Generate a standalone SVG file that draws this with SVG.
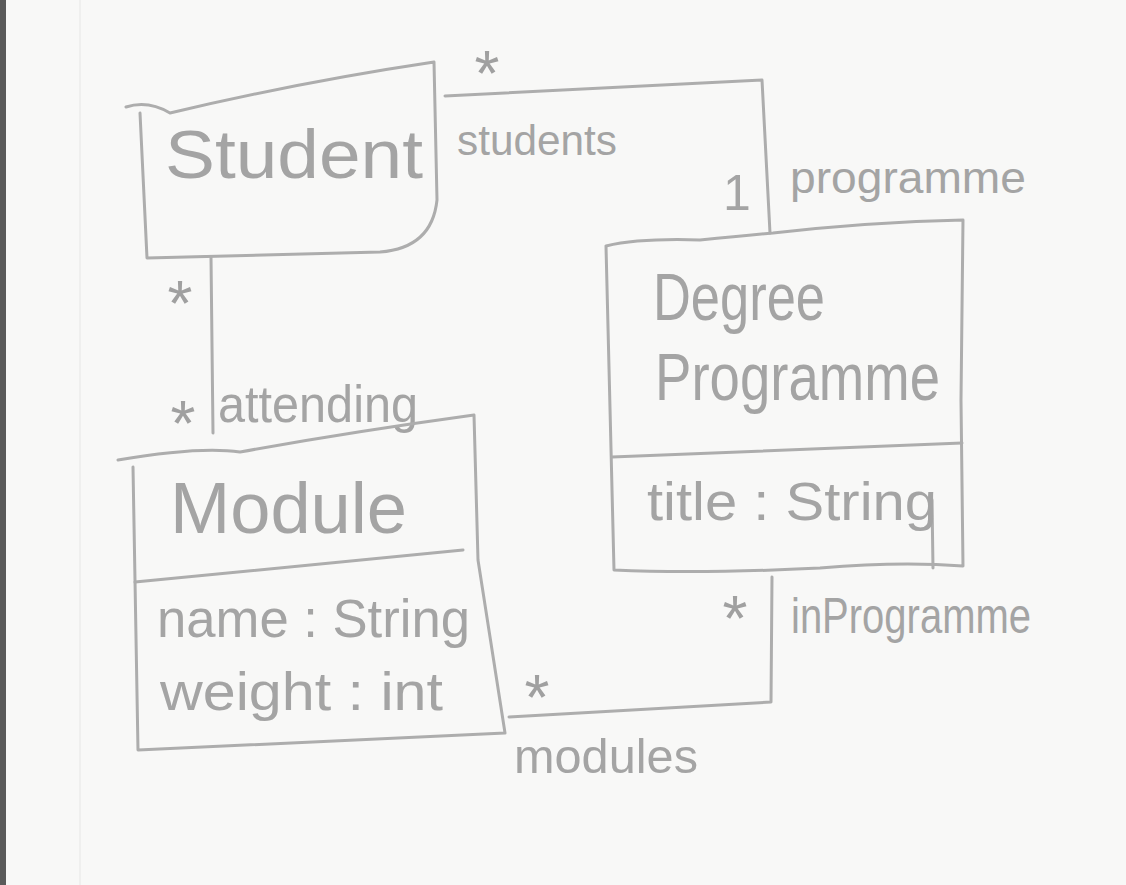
<svg xmlns="http://www.w3.org/2000/svg" width="1126" height="885" viewBox="0 0 1126 885">
  <style>
    .pen { fill: none; stroke: #adadad; stroke-width: 3; stroke-linecap: round; stroke-linejoin: round; }
    .hand { font-family: "Liberation Sans", "DejaVu Sans", sans-serif; fill: #a4a4a4; }
    .star { font-family: "Liberation Sans", "DejaVu Sans", sans-serif; fill: #a0a0a0; font-size: 64px; text-anchor: middle; }
  </style>

  <!-- paper -->
  <rect x="0" y="0" width="1126" height="885" fill="#f8f8f7"/>
  <rect x="0" y="0" width="6" height="885" fill="#5a5a5a"/>
  <line x1="80" y1="0" x2="80" y2="885" stroke="#ececeb" stroke-width="1.5"/>

  <!-- associations -->
  <g id="connectors">
    <path class="pen" d="M445,96 Q600,88 762,80 L770,233"/>
    <path class="pen" d="M211,257 L213,433"/>
    <path class="pen" d="M772,577 L771,702 L509,717"/>

    <text class="star" x="487" y="96">*</text>
    <text class="hand" x="457" y="155" font-size="42" textLength="160" lengthAdjust="spacingAndGlyphs">students</text>
    <text class="hand" x="737" y="210" font-size="50" text-anchor="middle">1</text>
    <text class="hand" x="790" y="193" font-size="44" textLength="236" lengthAdjust="spacingAndGlyphs">programme</text>

    <text class="star" x="180" y="326">*</text>
    <text class="star" x="183" y="446">*</text>
    <text class="hand" x="218" y="422" font-size="52" textLength="200" lengthAdjust="spacingAndGlyphs">attending</text>

    <text class="star" x="735" y="641">*</text>
    <text class="star" x="537" y="720">*</text>
    <text class="hand" x="791" y="633" font-size="50" textLength="240" lengthAdjust="spacingAndGlyphs">inProgramme</text>
    <text class="hand" x="514" y="773" font-size="48" textLength="184" lengthAdjust="spacingAndGlyphs">modules</text>
  </g>

  <!-- Student class -->
  <g id="student">
    <path class="pen" d="M126,107 Q148,100 170,113 Q300,82 434,62 L437,200 Q432,248 380,252 L147,258 L140,113"/>
    <text class="hand" x="165" y="178" font-size="68" textLength="258" lengthAdjust="spacingAndGlyphs">Student</text>
  </g>

  <!-- Degree Programme class -->
  <g id="degree-programme">
    <path class="pen" d="M606,246 Q640,238 700,240 Q740,236 773,233 Q870,222 963,220 L961,400 L963,566 Q900,561 820,568 Q700,574 614,570 L606,246"/>
    <path class="pen" d="M612,457 Q780,450 962,443"/>
    <path class="pen" d="M932,500 L933,568"/>
    <text class="hand" x="653" y="320" font-size="66" textLength="172" lengthAdjust="spacingAndGlyphs">Degree</text>
    <text class="hand" x="655" y="400" font-size="66" textLength="285" lengthAdjust="spacingAndGlyphs">Programme</text>
    <text class="hand" x="647" y="520" font-size="54" textLength="290" lengthAdjust="spacingAndGlyphs">title : String</text>
  </g>

  <!-- Module class -->
  <g id="module">
    <path class="pen" d="M118,460 Q200,446 240,452 Q350,432 474,415 L478,560 L505,733 Q350,740 138,750 L133,467"/>
    <path class="pen" d="M135,582 Q300,566 463,550"/>
    <text class="hand" x="170" y="533" font-size="72" textLength="237" lengthAdjust="spacingAndGlyphs">Module</text>
    <text class="hand" x="157" y="637" font-size="54" textLength="313" lengthAdjust="spacingAndGlyphs">name : String</text>
    <text class="hand" x="160" y="710" font-size="54" textLength="283" lengthAdjust="spacingAndGlyphs">weight : int</text>
  </g>
</svg>
